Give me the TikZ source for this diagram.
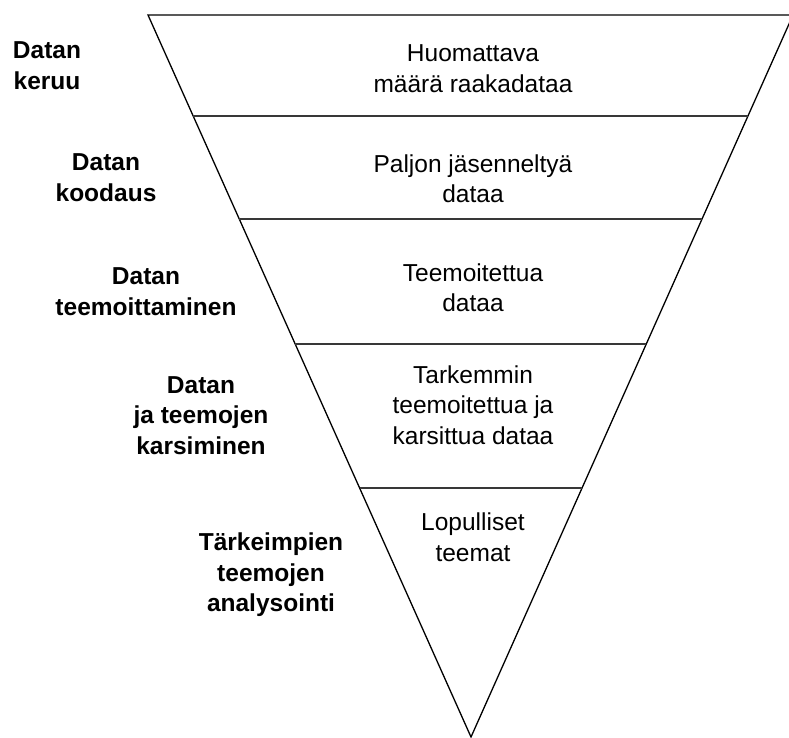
\documentclass[tikz,border=0pt]{standalone}
\usepackage{fontspec}
\setmainfont{Liberation Sans}
\usepackage{tikz}
\usetikzlibrary{calc}
\tikzset{
  stage/.style = {align=center, inner sep=0pt,
                  font=\fontsize{24.5}{30.5}\selectfont},
  phase/.style = {stage, font=\fontsize{24.5}{30.5}\selectfont\bfseries},
  rim/.style   = {draw=black, line width=1.3pt, line join=miter},
  div/.style   = {draw=black!78, line width=1.4pt},
}
\begin{document}
\begin{tikzpicture}[x=1pt, y=-1pt]
\clip (0,0) rectangle (789,737);

% --- funnel ---
\coordinate (tl) at (148,15);
\coordinate (tr) at (793,15);
\coordinate (apex) at (471,737);
\draw[rim] (tl) -- (tr) -- (apex) -- cycle;

\foreach \t [count=\i] in {0.140,0.2825,0.4557,0.655}
  \draw[div] ($(tl)!\t!(apex)$) coordinate (l\i) -- ($(tr)!\t!(apex)$) coordinate (r\i);

% --- contents (inside) ---
\node[stage] (raw)   at (473,68.5)  {Huomattava\\määrä raakadataa};
\node[stage] (coded) at (473,178.5) {Paljon jäsenneltyä\\dataa};
\node[stage] (themed) at (473,287.5) {Teemoitettua\\dataa};
\node[stage] (pruned) at (473,405)  {Tarkemmin\\teemoitettua ja\\karsittua dataa};
\node[stage] (final) at (473,537)   {Lopulliset\\teemat};

% --- phases (left) ---
\node[phase] (collect) at (47,65.5)  {Datan\\keruu};
\node[phase] (coding)  at (106,177.5) {Datan\\koodaus};
\node[phase] (theming) at (146,291.5) {Datan\\teemoittaminen};
\node[phase] (pruning) at (201,415.5) {Datan\\ja teemojen\\karsiminen};
\node[phase] (analysis) at (271,575) {Tärkeimpien\\teemojen\\analysointi};
\end{tikzpicture}
\end{document}
